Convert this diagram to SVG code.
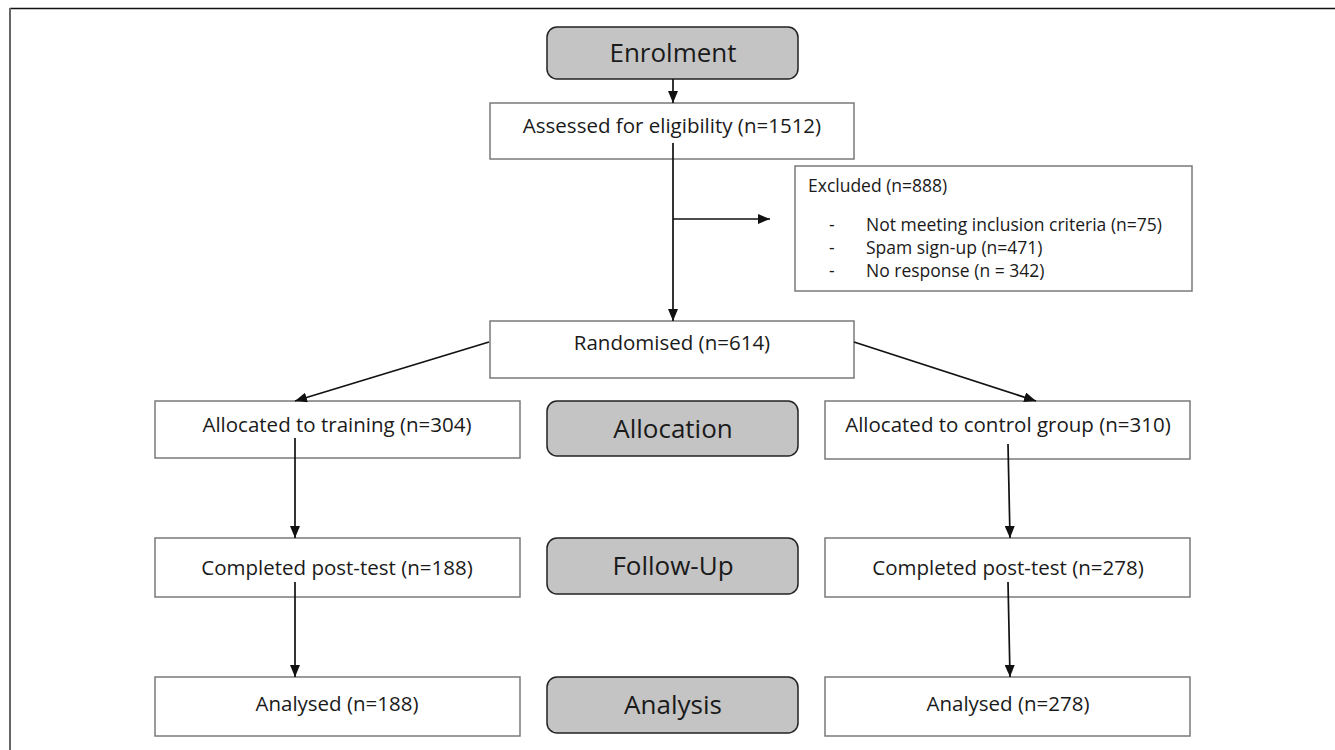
<svg xmlns="http://www.w3.org/2000/svg" width="1335" height="750" viewBox="0 0 1335 750">
<style>
.box{fill:#fff;stroke:#7a7a7a;stroke-width:1.5}
.stage{fill:#c4c4c4;stroke:#222;stroke-width:1.5}
.t{font-family:"Open Sans","Liberation Sans",sans-serif;font-size:20.5px;fill:#1a1a1a;text-anchor:middle}
.ts{font-family:"Open Sans","Liberation Sans",sans-serif;font-size:17.5px;fill:#1a1a1a}
.tl{font-family:"Open Sans","Liberation Sans",sans-serif;font-size:26px;fill:#1a1a1a;text-anchor:middle}
.c{stroke:#111;stroke-width:1.7;fill:none}
</style>
<defs>
<marker id="ah" viewBox="0 0 12 10" refX="12" refY="5" markerWidth="12" markerHeight="10" markerUnits="userSpaceOnUse" orient="auto"><path d="M0,0 L12,5 L0,10 z" fill="#111"/></marker>
</defs>
<rect width="1335" height="750" fill="#fff"/>
<g id="frame">
<line x1="10" y1="8.5" x2="1335" y2="8.5" stroke="#111" stroke-width="1.5"/>
<line x1="10" y1="8" x2="10" y2="750" stroke="#666" stroke-width="2"/>
</g>
<g id="enrolment"><rect class="stage" x="547" y="27" width="251" height="52" rx="10"/><text class="tl" x="673" y="62">Enrolment</text></g>
<g id="assessed"><rect class="box" x="490" y="103" width="364" height="56"/><text class="t" x="672" y="133">Assessed for eligibility (n=1512)</text></g>
<g id="excluded"><rect class="box" x="795" y="166" width="397" height="125"/>
<text class="ts" x="808" y="192">Excluded (n=888)</text>
<text class="ts" x="829" y="231">-</text><text class="ts" x="866" y="231">Not meeting inclusion criteria (n=75)</text>
<text class="ts" x="829" y="254">-</text><text class="ts" x="866" y="254">Spam sign-up (n=471)</text>
<text class="ts" x="829" y="277">-</text><text class="ts" x="866" y="277">No response (n = 342)</text>
</g>
<g id="randomised"><rect class="box" x="490" y="321" width="364" height="57"/><text class="t" x="672" y="350">Randomised (n=614)</text></g>
<g id="alloc-training"><rect class="box" x="155" y="401" width="365" height="57"/><text class="t" x="337" y="432">Allocated to training (n=304)</text></g>
<g id="allocation"><rect class="stage" x="547" y="401" width="251" height="55" rx="10"/><text class="tl" x="673" y="438">Allocation</text></g>
<g id="alloc-control"><rect class="box" x="825" y="401" width="365" height="58"/><text class="t" x="1008" y="432">Allocated to control group (n=310)</text></g>
<g id="completed-training"><rect class="box" x="155" y="538" width="365" height="59"/><text class="t" x="337" y="575">Completed post-test (n=188)</text></g>
<g id="followup"><rect class="stage" x="547" y="538" width="251" height="56" rx="10"/><text class="tl" x="673" y="575">Follow-Up</text></g>
<g id="completed-control"><rect class="box" x="825" y="538" width="365" height="59"/><text class="t" x="1008" y="575">Completed post-test (n=278)</text></g>
<g id="analysed-training"><rect class="box" x="155" y="677" width="365" height="59"/><text class="t" x="337" y="711">Analysed (n=188)</text></g>
<g id="analysis"><rect class="stage" x="547" y="677" width="251" height="56" rx="10"/><text class="tl" x="673" y="714">Analysis</text></g>
<g id="analysed-control"><rect class="box" x="825" y="677" width="365" height="59"/><text class="t" x="1008" y="711">Analysed (n=278)</text></g>
<g id="connectors">
<line class="c" x1="673" y1="79" x2="673" y2="103" marker-end="url(#ah)"/>
<line class="c" x1="673" y1="143" x2="673" y2="321" marker-end="url(#ah)"/>
<line class="c" x1="673" y1="219" x2="770" y2="219" marker-end="url(#ah)"/>
<line class="c" x1="489" y1="342" x2="295" y2="401" marker-end="url(#ah)"/>
<line class="c" x1="854" y1="342" x2="1036" y2="401" marker-end="url(#ah)"/>
<line class="c" x1="295" y1="438" x2="295" y2="538" marker-end="url(#ah)"/>
<line class="c" x1="1008" y1="444" x2="1010" y2="538" marker-end="url(#ah)"/>
<line class="c" x1="295" y1="582" x2="295" y2="677" marker-end="url(#ah)"/>
<line class="c" x1="1008" y1="582" x2="1010" y2="677" marker-end="url(#ah)"/>
</g>
</svg>
